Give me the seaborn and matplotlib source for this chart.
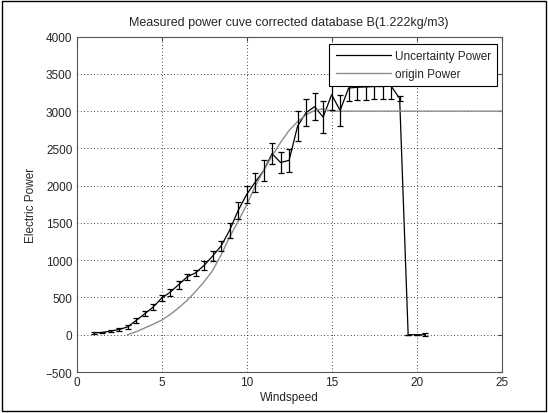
import numpy as np
import pandas as pd
import matplotlib
matplotlib.use("Agg")
import matplotlib.pyplot as plt
import seaborn as sns

# ------------------------------------------------------------------
# Data
# ------------------------------------------------------------------
wind_unc = [1.0, 1.5, 2.0, 2.5, 3.0, 3.5, 4.0, 4.5, 5.0, 5.5, 6.0, 6.5, 7.0, 7.5,
            8.0, 8.5, 9.0, 9.5, 10.0, 10.5, 11.0, 11.5, 12.0, 12.5, 13.0, 13.5,
            14.0, 14.5, 15.0, 15.5, 16.0, 16.5, 17.0, 17.5, 18.0, 18.5, 19.0,
            19.5, 20.0, 20.5]
power_unc = [25, 30, 50, 70, 105, 190, 280, 370, 490, 570, 670, 775, 830, 930,
             1055, 1190, 1400, 1665, 1880, 2045, 2200, 2430, 2310, 2340, 2800, 2980,
             3060, 2920, 3220, 3010, 3310, 3320, 3325, 3330, 3330, 3335, 3170,
             0, 0, 0]
power_err = [10, 10, 15, 20, 25, 35, 35, 40, 40, 45, 50, 45, 45, 55,
             70, 70, 105, 110, 110, 125, 140, 140, 135, 150, 200, 185,
             180, 210, 200, 205, 170, 170, 170, 170, 170, 170, 30,
             0, 0, 20]

wind_origin = [3.0, 3.5, 4.0, 4.5, 5.0, 5.5, 6.0, 6.5, 7.0, 7.5, 8.0, 8.5, 9.0,
               9.5, 10.0, 10.5, 11.0, 11.5, 12.0, 12.5, 13.0, 13.5, 14.0, 14.5,
               15.0, 25.0]
power_origin = [0, 40, 90, 140, 195, 270, 360, 460, 580, 710, 860, 1070, 1310,
                1520, 1740, 1990, 2200, 2400, 2580, 2740, 2860, 2950, 3010, 3030,
                3000, 3000]

df_unc = pd.DataFrame({'Windspeed': wind_unc, 'Power': power_unc})
df_orig = pd.DataFrame({'Windspeed': wind_origin, 'Power': power_origin})

sns.set_style("white")
plt.rcParams['font.family'] = ['Liberation Sans', 'DejaVu Sans']
plt.rcParams['font.size'] = 8.5

fig = plt.figure(figsize=(5.48, 4.14), dpi=100)
ax = fig.add_axes([0.1396, 0.099, 0.9155 - 0.1396, 0.9092 - 0.099])

sns.lineplot(data=df_unc, x='Windspeed', y='Power', color='black', lw=0.9,
             ax=ax, label='Uncertainty Power', sort=False, estimator=None)
sns.lineplot(data=df_orig, x='Windspeed', y='Power', color='#8c8c8c', lw=1.0,
             ax=ax, label='origin Power', sort=False, estimator=None)
ax.errorbar(wind_unc, power_unc, yerr=power_err, fmt='none', ecolor='black',
            elinewidth=0.9, capsize=2.3, capthick=0.9)

ax.set_xlim(0, 25)
ax.set_ylim(-500, 4000)
ax.set_xticks(range(0, 26, 5))
ax.set_yticks(range(-500, 4001, 500))
ax.grid(True, color='black', linestyle=(0, (1, 3)), linewidth=0.6)
ax.tick_params(direction='in', length=3, top=True, right=True, color='#444444',
               labelsize=8.5, pad=3)
for s in ax.spines.values():
    s.set_color('#555555')
    s.set_linewidth(0.8)

ax.set_title('Measured power cuve corrected database B(1.222kg/m3)', fontsize=9, pad=8)
ax.set_xlabel('Windspeed', fontsize=8.5, labelpad=2)
ax.set_ylabel('Electric Power', fontsize=8.5, labelpad=6)

leg = ax.legend(loc='upper right', bbox_to_anchor=(0.989, 0.978), borderaxespad=0,
                fontsize=8.5, frameon=True, fancybox=False, edgecolor='black',
                framealpha=1, handlelength=4.7, borderpad=0.53, labelspacing=0.5,
                handletextpad=0.3)
leg.get_frame().set_linewidth(0.8)
leg.set_zorder(10)

# outer frame of the figure window
fig.patches.append(plt.Rectangle((0.004, 0.004), 0.992, 0.992, transform=fig.transFigure,
                                 fill=False, edgecolor='black', linewidth=1.0))

fig.savefig('out.png', dpi=100)
